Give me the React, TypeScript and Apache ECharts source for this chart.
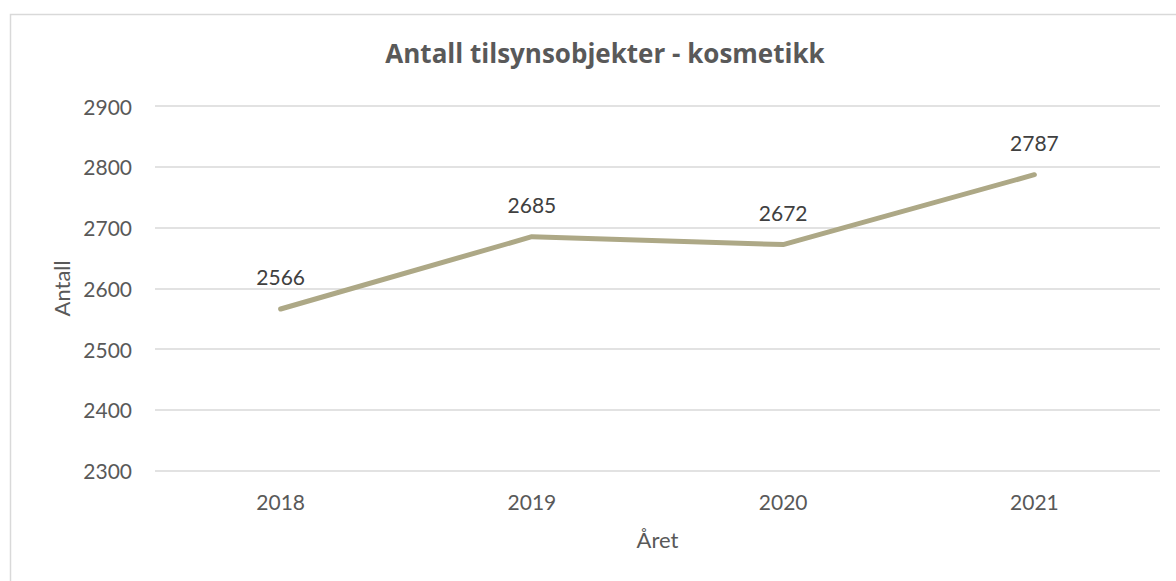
import React, { useEffect, useRef } from "react";
import * as echarts from "echarts";

const years = ["2018", "2019", "2020", "2021"];
const counts = [2566, 2685, 2672, 2787];
const titleText = "Antall tilsynsobjekter - kosmetikk";
const yName = "Antall";
const xName = "Året";

const FONT = "Lato, 'Open Sans', sans-serif";

export default function App() {
  const ref = useRef<HTMLDivElement>(null);
  useEffect(() => {
    if (!ref.current) return;
    const chart = echarts.init(ref.current, null, { renderer: "svg" });
    chart.setOption({
      animation: false,
      backgroundColor: "#ffffff",
      textStyle: { fontFamily: FONT },
      title: {
        text: titleText,
        left: 600,
        textAlign: "center",
        top: 35,
        textStyle: { fontFamily: "'Open Sans', sans-serif", fontSize: 26, fontWeight: "bold", color: "#595959" },
      },
      graphic: [
        {
          type: "rect",
          shape: { x: 10.5, y: 14.5, width: 1300, height: 700 },
          style: { fill: "none", stroke: "#d9d9d9", lineWidth: 1.5 },
          silent: true,
          z: -1,
        },
      ],
      grid: { left: 155, right: 16, top: 106, bottom: 110.3 },
      xAxis: {
        type: "category",
        data: years,
        boundaryGap: true,
        axisLine: { show: false },
        axisTick: { show: false },
        axisLabel: { color: "#595959", fontSize: 21, margin: 20, fontFamily: FONT },
        name: xName,
        nameLocation: "middle",
        nameGap: 58,
        nameTextStyle: { color: "#595959", fontSize: 22, fontFamily: FONT },
      },
      yAxis: {
        type: "value",
        min: 2300,
        max: 2900,
        interval: 100,
        axisLine: { show: false },
        axisTick: { show: false },
        axisLabel: {
          color: "#595959",
          fontSize: 21,
          margin: 23,
          fontFamily: FONT,
          formatter: (v: number) => String(v),
        },
        splitLine: { lineStyle: { color: "#d9d9d9", width: 1.5 } },
        name: yName,
        nameLocation: "middle",
        nameGap: 80,
        nameRotate: 90,
        nameTextStyle: { color: "#595959", fontSize: 22, fontFamily: FONT },
      },
      series: [
        {
          type: "line",
          data: counts,
          symbol: "circle",
          symbolSize: 2,
          showSymbol: true,
          itemStyle: { color: "#ada886" },
          lineStyle: { color: "#ada886", width: 5, cap: "round", join: "round" },
          label: {
            show: true,
            position: "top",
            distance: 21,
            color: "#404040",
            fontSize: 21,
            fontFamily: FONT,
          },
        },
      ],
    });
    return () => chart.dispose();
  }, []);
  return (
    <div
      ref={ref}
      style={{ position: "fixed", left: 0, top: 0, width: 1176, height: 581, background: "#fff" }}
    />
  );
}
